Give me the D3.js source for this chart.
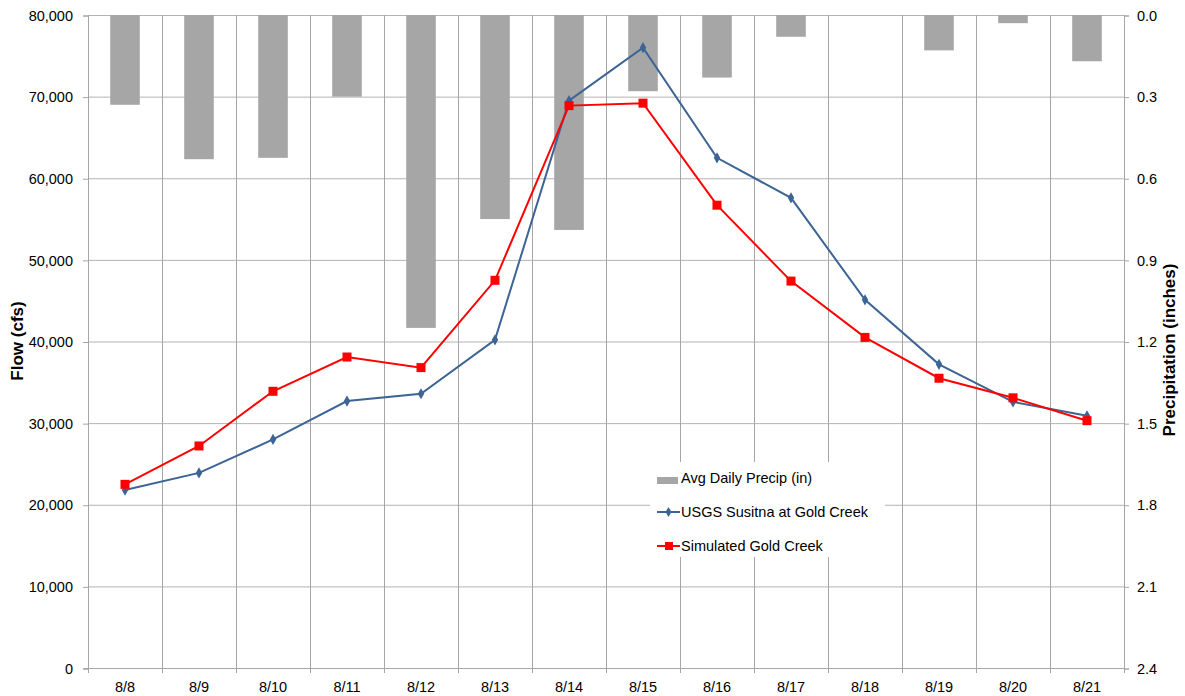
<!DOCTYPE html>
<html>
<head>
<meta charset="utf-8">
<script src="https://cdn.jsdelivr.net/npm/d3@7"></script>
<style>
  body { margin: 0; background: #fff; }
  svg text { font-family: "Liberation Sans", Arial, sans-serif; fill: #000; }
</style>
</head>
<body>
<svg id="chart" width="1185" height="696"></svg>
<script>
var days = ["8/8","8/9","8/10","8/11","8/12","8/13","8/14","8/15","8/16","8/17","8/18","8/19","8/20","8/21"];
var precip = [0.33, 0.53, 0.525, 0.30, 1.15, 0.75, 0.79, 0.28, 0.23, 0.08, 0, 0.13, 0.03, 0.17];
var usgs = [21800, 23900, 28000, 32700, 33600, 40200, 69500, 76000, 62500, 57600, 45100, 37200, 32600, 30900];
var simulated = [22500, 27200, 33900, 38100, 36800, 47500, 68900, 69200, 56700, 47400, 40500, 35500, 33100, 30300];
var flowTicks = [0, 10000, 20000, 30000, 40000, 50000, 60000, 70000, 80000];
var precipTicks = [0, 0.3, 0.6, 0.9, 1.2, 1.5, 1.8, 2.1, 2.4];

var plotL = 88, plotR = 1124, plotT = 15, plotB = 668;
var svg = d3.select("#chart");

var x = d3.scaleBand().domain(days).range([plotL, plotR]);
var y = d3.scaleLinear().domain([0, 80000]).range([plotB, plotT]);
var y2 = d3.scaleLinear().domain([0, 2.4]).range([plotT, plotB]);

// horizontal gridlines
svg.append("g").selectAll("line")
    .data(flowTicks)
  .enter().append("line")
    .attr("x1", plotL).attr("x2", plotR)
    .attr("y1", function(d) { return y(d) + 0.5; }).attr("y2", function(d) { return y(d) + 0.5; })
    .attr("stroke", "#b3b3b3").attr("stroke-width", 1);

// vertical gridlines at category boundaries
svg.append("g").selectAll("line")
    .data(days.concat(["end"]))
  .enter().append("line")
    .attr("x1", function(d, i) { return Math.round(plotL + i * x.step()) + 0.5; })
    .attr("x2", function(d, i) { return Math.round(plotL + i * x.step()) + 0.5; })
    .attr("y1", plotT).attr("y2", plotB + 5)
    .attr("stroke", "#a6a6a6").attr("stroke-width", 1);

// precip bars hanging from top
var bw = x.bandwidth() * 0.4;
svg.append("g").selectAll("rect")
    .data(precip)
  .enter().append("rect")
    .attr("x", function(d, i) { return x(days[i]) + x.bandwidth() / 2 - bw / 2; })
    .attr("y", y2(0))
    .attr("width", bw)
    .attr("height", function(d) { return y2(d) - y2(0); })
    .attr("fill", "#a6a6a6");

// axes
var yAxis = svg.append("g")
    .attr("transform", "translate(" + plotL + ",0.5)")
    .call(d3.axisLeft(y).tickValues(flowTicks).tickSize(5).tickPadding(10).tickFormat(d3.format(",")));
var y2Axis = svg.append("g")
    .attr("transform", "translate(" + plotR + ",0.5)")
    .call(d3.axisRight(y2).tickValues(precipTicks).tickSize(5).tickPadding(8).tickFormat(d3.format(".1f")));
[yAxis, y2Axis].forEach(function(a) {
  a.select(".domain").attr("stroke", "#a6a6a6");
  a.selectAll(".tick line").attr("stroke", "#a6a6a6");
  a.selectAll("text").style("font-size", "14.5px").attr("fill", "#000");
});

// bottom axis line and labels
svg.append("line")
    .attr("x1", plotL - 4).attr("x2", plotR)
    .attr("y1", plotB + 0.5).attr("y2", plotB + 0.5)
    .attr("stroke", "#a6a6a6");
svg.append("g").selectAll("text")
    .data(days)
  .enter().append("text")
    .attr("x", function(d) { return x(d) + x.bandwidth() / 2; })
    .attr("y", plotB + 24)
    .attr("text-anchor", "middle")
    .style("font-size", "14.5px")
    .text(function(d) { return d; });

// axis titles
svg.append("text")
    .attr("transform", "translate(23,341) rotate(-90)")
    .attr("text-anchor", "middle")
    .style("font-size", "17px").style("font-weight", "bold")
    .text("Flow (cfs)");
svg.append("text")
    .attr("transform", "translate(1175,350) rotate(-90)")
    .attr("text-anchor", "middle")
    .style("font-size", "17px").style("font-weight", "bold")
    .text("Precipitation (inches)");

// lines
var line = function(vals) {
  return d3.line()
    .x(function(d, i) { return x(days[i]) + x.bandwidth() / 2; })
    .y(function(d) { return y(d); })(vals);
};

svg.append("path").attr("d", line(usgs))
    .attr("fill", "none").attr("stroke", "#3c6494").attr("stroke-width", 2);
svg.append("g").selectAll("path")
    .data(usgs)
  .enter().append("path")
    .attr("transform", function(d, i) { return "translate(" + (x(days[i]) + x.bandwidth() / 2) + "," + y(d) + ")"; })
    .attr("d", d3.symbol().type(d3.symbolDiamond).size(36))
    .attr("fill", "#3c6494");

svg.append("path").attr("d", line(simulated))
    .attr("fill", "none").attr("stroke", "#ff0000").attr("stroke-width", 2);
svg.append("g").selectAll("rect")
    .data(simulated)
  .enter().append("rect")
    .attr("x", function(d, i) { return x(days[i]) + x.bandwidth() / 2 - 4.5; })
    .attr("y", function(d) { return y(d) - 4.5; })
    .attr("width", 9).attr("height", 9)
    .attr("fill", "#ff0000");

// legend
var lg = svg.append("g").attr("transform", "translate(650,462)");
lg.append("rect").attr("width", 235).attr("height", 95).attr("fill", "#fff");
lg.append("rect").attr("x", 7).attr("y", 15).attr("width", 21).attr("height", 7).attr("fill", "#a6a6a6");
lg.append("text").attr("x", 31).attr("y", 21).style("font-size", "14.5px").text("Avg Daily Precip (in)");
lg.append("line").attr("x1", 7).attr("x2", 30).attr("y1", 50).attr("y2", 50).attr("stroke", "#3c6494").attr("stroke-width", 2);
lg.append("path").attr("transform", "translate(18.5,50)").attr("d", d3.symbol().type(d3.symbolDiamond).size(30)).attr("fill", "#3c6494");
lg.append("text").attr("x", 31).attr("y", 55).style("font-size", "14.5px").text("USGS Susitna at Gold Creek");
lg.append("line").attr("x1", 7).attr("x2", 30).attr("y1", 84).attr("y2", 84).attr("stroke", "#ff0000").attr("stroke-width", 2);
lg.append("rect").attr("x", 15).attr("y", 80).attr("width", 8).attr("height", 8).attr("fill", "#ff0000");
lg.append("text").attr("x", 31).attr("y", 89).style("font-size", "14.5px").text("Simulated Gold Creek");
</script>
</body>
</html>
